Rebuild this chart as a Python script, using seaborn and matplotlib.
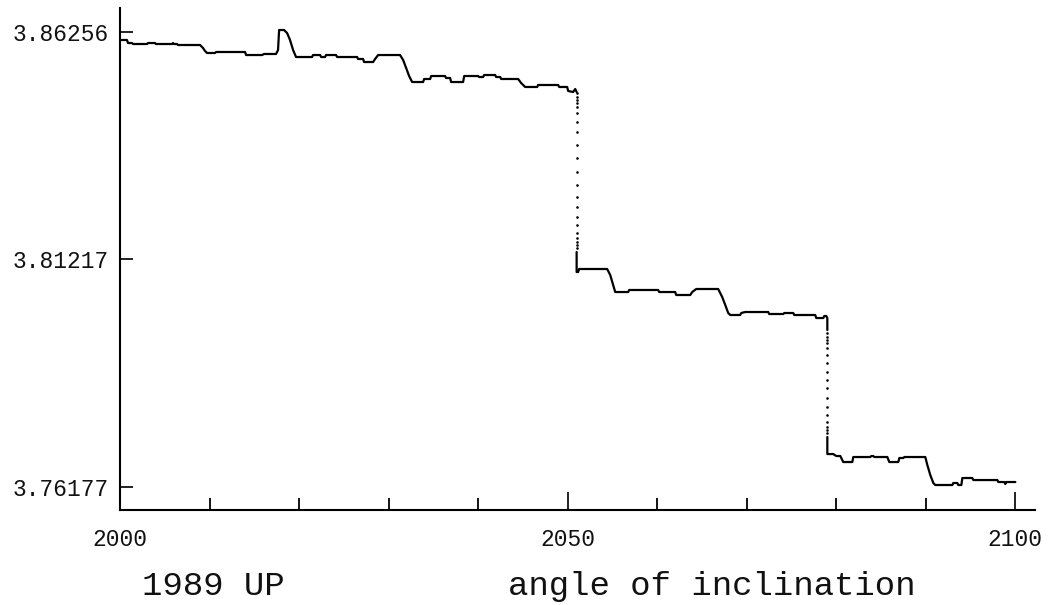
import matplotlib
matplotlib.use("Agg")
import matplotlib.pyplot as plt
import seaborn as sns

# Inclination series, split where the value falls away in a fast transition.
years_a = [2000.00, 2000.78, 2000.89, 2001.34, 2001.45, 2003.02, 2003.13, 2003.91,
           2004.02, 2005.81, 2005.92, 2006.03, 2006.37, 2006.48, 2008.94, 2009.27,
           2009.50, 2009.72, 2010.61, 2010.73, 2013.97, 2014.08, 2015.87, 2016.09,
           2017.43, 2017.65, 2017.77, 2018.32, 2018.66, 2018.99, 2019.33, 2019.66,
           2021.45, 2021.56, 2022.35, 2022.46, 2022.90, 2023.02, 2024.13, 2024.25,
           2026.48, 2026.59, 2027.15, 2027.26, 2028.27, 2028.49, 2028.83, 2031.28,
           2031.62, 2031.96, 2032.29, 2032.63, 2033.85, 2033.97, 2034.64, 2034.75,
           2036.31, 2036.42, 2036.87, 2036.98, 2038.32, 2038.44, 2040.00, 2040.11,
           2040.56, 2040.67, 2041.90, 2042.01, 2042.46, 2042.57, 2044.47, 2044.80,
           2045.25, 2046.59, 2046.70, 2048.94, 2049.05, 2049.94, 2050.06, 2050.61,
           2050.84, 2051.00]
values_a = [3.86079, 3.86079, 3.86012, 3.86012, 3.85990, 3.85990, 3.86012, 3.86012,
            3.85990, 3.85990, 3.86012, 3.85990, 3.85990, 3.85968, 3.85968, 3.85902,
            3.85835, 3.85791, 3.85791, 3.85813, 3.85813, 3.85746, 3.85746, 3.85769,
            3.85769, 3.85857, 3.86300, 3.86300, 3.86234, 3.86079, 3.85857, 3.85702,
            3.85702, 3.85746, 3.85746, 3.85702, 3.85702, 3.85746, 3.85746, 3.85702,
            3.85702, 3.85658, 3.85658, 3.85591, 3.85591, 3.85658, 3.85746, 3.85746,
            3.85636, 3.85458, 3.85281, 3.85148, 3.85148, 3.85215, 3.85215, 3.85281,
            3.85281, 3.85237, 3.85237, 3.85148, 3.85148, 3.85281, 3.85281, 3.85259,
            3.85259, 3.85303, 3.85303, 3.85259, 3.85259, 3.85215, 3.85215, 3.85126,
            3.85038, 3.85038, 3.85082, 3.85082, 3.85038, 3.85038, 3.84949, 3.84927,
            3.84993, 3.84927]

drop_a_year = 2051.0
drop_a_values = [3.84905, 3.84816, 3.84750, 3.84683, 3.84595, 3.84462, 3.84262,
                 3.84041, 3.83753, 3.83465, 3.83155, 3.82867, 3.82601, 3.82379,
                 3.82158, 3.81980, 3.81803, 3.81692, 3.81604, 3.81537, 3.81471]

years_b = [2051.00, 2051.00, 2051.17, 2051.28, 2054.41, 2054.75, 2055.08, 2055.31,
           2056.76, 2056.87, 2060.11, 2060.22, 2062.01, 2062.12, 2063.69, 2063.91,
           2064.36, 2066.81, 2067.26, 2067.60, 2067.93, 2068.16, 2069.27, 2069.38,
           2069.83, 2072.40, 2072.51, 2074.08, 2074.19, 2075.19, 2075.31, 2077.65,
           2077.76, 2078.55, 2078.66, 2078.88, 2079.00, 2079.00]
values_b = [3.81382, 3.80939, 3.80939, 3.81006, 3.81006, 3.80873, 3.80651, 3.80496,
            3.80496, 3.80541, 3.80541, 3.80496, 3.80496, 3.80430, 3.80430, 3.80496,
            3.80563, 3.80563, 3.80385, 3.80208, 3.80031, 3.79987, 3.79987, 3.80031,
            3.80053, 3.80053, 3.80009, 3.80009, 3.80031, 3.80031, 3.79987, 3.79987,
            3.79920, 3.79920, 3.79965, 3.79965, 3.79920, 3.79654]

drop_b_year = 2079.0
drop_b_values = [3.79588, 3.79499, 3.79433, 3.79366, 3.79256, 3.79101, 3.78923,
                 3.78724, 3.78547, 3.78370, 3.78148, 3.77949, 3.77771, 3.77616,
                 3.77506, 3.77439, 3.77373]

years_c = [2079.00, 2079.00, 2079.66, 2080.00, 2080.45, 2080.78, 2081.79, 2081.90,
           2083.80, 2083.91, 2084.13, 2084.24, 2085.70, 2085.92, 2086.93, 2087.04,
           2087.48, 2087.60, 2089.94, 2090.17, 2090.50, 2090.84, 2091.06, 2092.96,
           2093.07, 2093.52, 2093.63, 2093.97, 2094.08, 2095.19, 2095.31, 2097.99,
           2098.10, 2098.77, 2098.88, 2098.99, 2100.00]
values_c = [3.77284, 3.76907, 3.76907, 3.76863, 3.76863, 3.76730, 3.76730, 3.76841,
            3.76841, 3.76863, 3.76863, 3.76841, 3.76841, 3.76730, 3.76730, 3.76819,
            3.76819, 3.76841, 3.76841, 3.76664, 3.76442, 3.76265, 3.76221, 3.76221,
            3.76265, 3.76265, 3.76221, 3.76221, 3.76376, 3.76376, 3.76331, 3.76331,
            3.76287, 3.76287, 3.76243, 3.76287, 3.76287]

y_ticks = [3.76177, 3.81217, 3.86256]
y_tick_labels = ["3.76177", "3.81217", "3.86256"]
x_major = [2000, 2050, 2100]
x_major_labels = ["2000", "2050", "2100"]
x_minor = [2010, 2020, 2030, 2040, 2060, 2070, 2080, 2090]

sns.set_style("white")
plt.rcParams["font.family"] = ["Liberation Mono", "DejaVu Sans Mono"]

fig = plt.figure(figsize=(10.49, 6.05), dpi=100)
ax = fig.add_axes([0.1144, 0.157, 0.8723, 0.8298])

for yrs, vals in [(years_a, values_a), (years_b, values_b), (years_c, values_c)]:
    sns.lineplot(x=yrs, y=vals, sort=False, estimator=None, color="black",
                 linewidth=1.6, ax=ax)

for yr, vals in [(drop_a_year, drop_a_values), (drop_b_year, drop_b_values)]:
    sns.scatterplot(x=[yr] * len(vals), y=vals, s=3.5, color="black",
                    linewidth=0, ax=ax)

ax.set_xlim(2000, 2102.2)
ax.set_ylim(3.75667, 3.86788)

for side in ("top", "right"):
    ax.spines[side].set_visible(False)
for side in ("left", "bottom"):
    ax.spines[side].set_color("black")
    ax.spines[side].set_linewidth(1.5)

ax.set_yticks(y_ticks, y_tick_labels)
ax.set_xticks(x_major, x_major_labels)
ax.set_xticks(x_minor, minor=True)
ax.tick_params(axis="y", which="major", direction="in", length=9.5, width=1.3,
               pad=8, labelsize=16.5, colors="#111111", left=True)
ax.tick_params(axis="x", which="major", direction="in", length=13, width=1.3,
               pad=13, labelsize=16.5, colors="#111111", bottom=True)
ax.tick_params(axis="x", which="minor", direction="in", length=8.6, width=1.3,
               colors="black", bottom=True)
ax.set_xlabel("")
ax.set_ylabel("")

fig.text(0.1354, 0.030, "1989 UP", fontsize=24.5, ha="left", va="center",
         color="#111111")
fig.text(0.4843, 0.030, "angle of inclination", fontsize=24.5, ha="left",
         va="center", color="#111111")

fig.savefig("out.png", dpi=100)
